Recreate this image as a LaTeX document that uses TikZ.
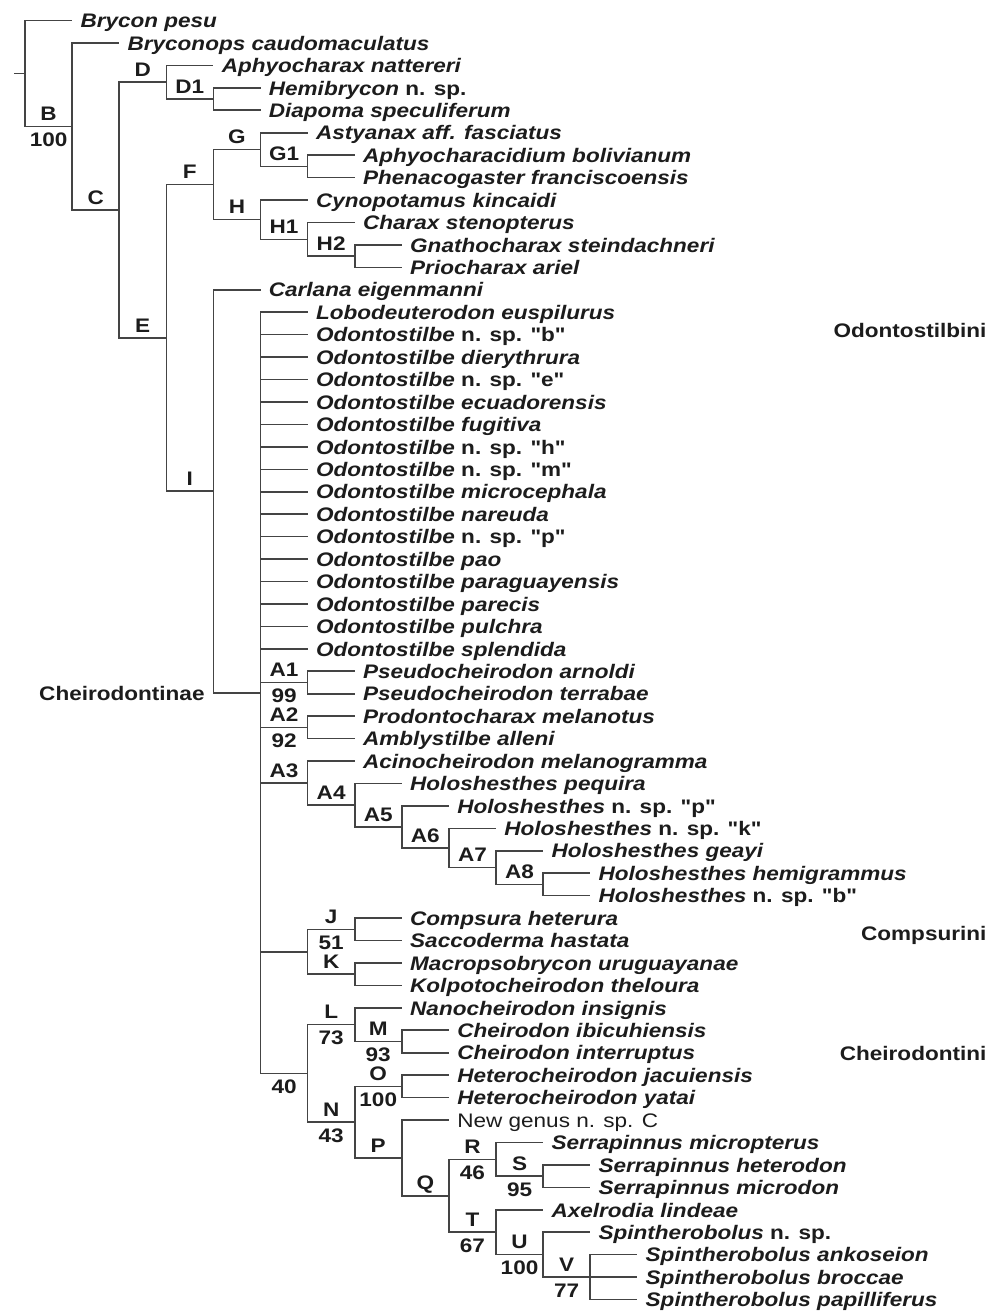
\documentclass[tikz,border=0pt]{standalone}
\usepackage{fontspec}
\setmainfont{Liberation Sans}[FakeStretch=1.15,Ligatures=TeXOff]
\definecolor{branch}{HTML}{444444}
\definecolor{ink}{HTML}{1C1C1C}
\newcommand\novsp{{\upshape n. sp.}}
\newcommand\novspq[1]{{\upshape n. sp. "#1"}}

\begin{document}
\begin{tikzpicture}[x=23.55pt,y=-11.22pt,
 br/.style={branch,line width=.8pt},
 tx/.style={anchor=west,inner xsep=4pt,inner ysep=0pt,text height=.72em,text depth=0pt,text=ink,font=\fontsize{9.8}{11}\selectfont\bfseries\itshape},
 nt/.style={tx,font=\fontsize{9.8}{11}\selectfont},
 lb/.style={inner xsep=0pt,inner ysep=2.5pt,text height=.72em,text depth=0pt,text=ink,font=\fontsize{9.8}{11}\selectfont\bfseries}]
 \useasboundingbox(-.531,-.914)rectangle(20.51,57.51);
 % internal nodes: (level, row)
 \coordinate(stub)at(-.23,2.362);\coordinate(root)at(0,2.362);
 \coordinate(B)at(1,4.724);\coordinate(C)at(2,8.448);
 \coordinate(D)at(3,2.75);\coordinate(D1)at(4,3.5);
 \coordinate(E)at(3,14.146);\coordinate(F)at(4,7.3125);
 \coordinate(G)at(5,5.75);\coordinate(G1)at(6,6.5);
 \coordinate(H)at(5,8.875);\coordinate(H1)at(6,9.75);\coordinate(H2)at(7,10.5);
 \coordinate(I)at(4,20.98);\coordinate(CH)at(5,29.961);
 \coordinate(A1)at(6,29.5);\coordinate(A2)at(6,31.5);\coordinate(A3)at(6,33.984);
 \coordinate(A4)at(7,34.969);\coordinate(A5)at(8,35.938);\coordinate(A6)at(9,36.875);
 \coordinate(A7)at(10,37.75);\coordinate(A8)at(11,38.5);
 \coordinate(JK)at(6,41.5);\coordinate(J)at(7,40.5);\coordinate(K)at(7,42.5);
 \coordinate(N40)at(6,46.922);\coordinate(L)at(7,44.75);\coordinate(M)at(8,45.5);
 \coordinate(N)at(7,49.094);\coordinate(O)at(8,47.5);\coordinate(P)at(8,50.688);
 \coordinate(Q)at(9,52.375);\coordinate(R)at(10,50.75);\coordinate(S)at(11,51.5);
 \coordinate(T)at(10,54);\coordinate(U)at(11,55);\coordinate(V)at(12,56);
 % taxa
 \node[tx](pesu)at(1,0){Brycon pesu};
 \node[tx](caud)at(2,1){Bryconops caudomaculatus};
 \node[tx](natt)at(4,2){Aphyocharax nattereri};
 \node[tx](hemi)at(5,3){Hemibrycon \novsp};
 \node[tx](diap)at(5,4){Diapoma speculiferum};
 \node[tx](asty)at(6,5){Astyanax aff. fasciatus};
 \node[tx](apch)at(7,6){Aphyocharacidium bolivianum};
 \node[tx](phen)at(7,7){Phenacogaster franciscoensis};
 \node[tx](cyno)at(6,8){Cynopotamus kincaidi};
 \node[tx](chst)at(7,9){Charax stenopterus};
 \node[tx](gnat)at(8,10){Gnathocharax steindachneri};
 \node[tx](prio)at(8,11){Priocharax ariel};
 \node[tx](carl)at(5,12){Carlana eigenmanni};
 \node[tx](lobo)at(6,13){Lobodeuterodon euspilurus};
 \node[tx](osb)at(6,14){Odontostilbe \novspq{b}};
 \node[tx](odie)at(6,15){Odontostilbe dierythrura};
 \node[tx](ose)at(6,16){Odontostilbe \novspq{e}};
 \node[tx](oecu)at(6,17){Odontostilbe ecuadorensis};
 \node[tx](ofug)at(6,18){Odontostilbe fugitiva};
 \node[tx](osh)at(6,19){Odontostilbe \novspq{h}};
 \node[tx](osm)at(6,20){Odontostilbe \novspq{m}};
 \node[tx](omic)at(6,21){Odontostilbe microcephala};
 \node[tx](onar)at(6,22){Odontostilbe nareuda};
 \node[tx](osp)at(6,23){Odontostilbe \novspq{p}};
 \node[tx](opao)at(6,24){Odontostilbe pao};
 \node[tx](opag)at(6,25){Odontostilbe paraguayensis};
 \node[tx](opar)at(6,26){Odontostilbe parecis};
 \node[tx](opul)at(6,27){Odontostilbe pulchra};
 \node[tx](ospl)at(6,28){Odontostilbe splendida};
 \node[tx](arno)at(7,29){Pseudocheirodon arnoldi};
 \node[tx](terr)at(7,30){Pseudocheirodon terrabae};
 \node[tx](melt)at(7,31){Prodontocharax melanotus};
 \node[tx](alle)at(7,32){Amblystilbe alleni};
 \node[tx](acin)at(7,33){Acinocheirodon melanogramma};
 \node[tx](pequ)at(8,34){Holoshesthes pequira};
 \node[tx](hsp)at(9,35){Holoshesthes \novspq{p}};
 \node[tx](hsk)at(10,36){Holoshesthes \novspq{k}};
 \node[tx](geay)at(11,37){Holoshesthes geayi};
 \node[tx](hemg)at(12,38){Holoshesthes hemigrammus};
 \node[tx](hsb)at(12,39){Holoshesthes \novspq{b}};
 \node[tx](comp)at(8,40){Compsura heterura};
 \node[tx](sacc)at(8,41){Saccoderma hastata};
 \node[tx](macr)at(8,42){Macropsobrycon uruguayanae};
 \node[tx](kolp)at(8,43){Kolpotocheirodon theloura};
 \node[tx](nano)at(8,44){Nanocheirodon insignis};
 \node[tx](ibic)at(9,45){Cheirodon ibicuhiensis};
 \node[tx](intr)at(9,46){Cheirodon interruptus};
 \node[tx](jacu)at(9,47){Heterocheirodon jacuiensis};
 \node[tx](yata)at(9,48){Heterocheirodon yatai};
 \node[nt](newg)at(9,49){New genus n. sp. C};
 \node[tx](micp)at(11,50){Serrapinnus micropterus};
 \node[tx](hete)at(12,51){Serrapinnus heterodon};
 \node[tx](micd)at(12,52){Serrapinnus microdon};
 \node[tx](axel)at(11,53){Axelrodia lindeae};
 \node[tx](spsp)at(12,54){Spintherobolus \novsp};
 \node[tx](anko)at(13,55){Spintherobolus ankoseion};
 \node[tx](brcc)at(13,56){Spintherobolus broccae};
 \node[tx](papi)at(13,57){Spintherobolus papilliferus};
 % outgroups
 \draw[br](stub)--(root);
 \draw[br](root)|-(pesu.west);
 \draw[br](root)|-(B)node[lb,pos=.75,above](lB){B}node[lb,pos=.75,below](sB){100};
 \draw[br](B)|-(caud.west);
 \draw[br](B)|-(C)node[lb,pos=.75,above](lC){C};
 \draw[br](C)|-(D)node[lb,pos=.75,above](lD){D};
 \draw[br](C)|-(E)node[lb,pos=.75,above](lE){E};
 \draw[br](D)|-(natt.west);
 \draw[br](D)|-(D1)node[lb,pos=.75,above](lD1){D1};
 \draw[br](D1)|-(hemi.west)(D1)|-(diap.west);
 \draw[br](E)|-(F)node[lb,pos=.75,above](lF){F};
 \draw[br](E)|-(I)node[lb,pos=.75,above](lI){I};
 \draw[br](F)|-(G)node[lb,pos=.75,above](lG){G};
 \draw[br](F)|-(H)node[lb,pos=.75,above](lH){H};
 \draw[br](G)|-(asty.west);
 \draw[br](G)|-(G1)node[lb,pos=.75,above](lG1){G1};
 \draw[br](G1)|-(apch.west)(G1)|-(phen.west);
 \draw[br](H)|-(cyno.west);
 \draw[br](H)|-(H1)node[lb,pos=.75,above](lH1){H1};
 \draw[br](H1)|-(chst.west);
 \draw[br](H1)|-(H2)node[lb,pos=.75,above](lH2){H2};
 \draw[br](H2)|-(gnat.west)(H2)|-(prio.west);
 % Cheirodontinae
 \draw[br](I)|-(carl.west);
 \draw[br](I)|-(CH);
 \node[lb,anchor=east,inner sep=0pt](lCH)at(3.82,29.961){Cheirodontinae};
 \draw[br](CH)|-(lobo.west)(CH)|-(osb.west)(CH)|-(odie.west)(CH)|-(ose.west)
  (CH)|-(oecu.west)(CH)|-(ofug.west)(CH)|-(osh.west)(CH)|-(osm.west)
  (CH)|-(omic.west)(CH)|-(onar.west)(CH)|-(osp.west)(CH)|-(opao.west)
  (CH)|-(opag.west)(CH)|-(opar.west)(CH)|-(opul.west)(CH)|-(ospl.west);
 \draw[br](CH)|-(A1)node[lb,pos=.75,above](lA1){A1}node[lb,pos=.75,below](sA1){99};
 \draw[br](CH)|-(A2)node[lb,pos=.75,above](lA2){A2}node[lb,pos=.75,below](sA2){92};
 \draw[br](CH)|-(A3)node[lb,pos=.75,above](lA3){A3};
 \draw[br](CH)|-(JK);
 \draw[br](CH)|-(N40)node[lb,pos=.75,below](s40){40};
 \draw[br](A1)|-(arno.west)(A1)|-(terr.west);
 \draw[br](A2)|-(melt.west)(A2)|-(alle.west);
 \draw[br](A3)|-(acin.west);
 \draw[br](A3)|-(A4)node[lb,pos=.75,above](lA4){A4};
 \draw[br](A4)|-(pequ.west);
 \draw[br](A4)|-(A5)node[lb,pos=.75,above](lA5){A5};
 \draw[br](A5)|-(hsp.west);
 \draw[br](A5)|-(A6)node[lb,pos=.75,above](lA6){A6};
 \draw[br](A6)|-(hsk.west);
 \draw[br](A6)|-(A7)node[lb,pos=.75,above](lA7){A7};
 \draw[br](A7)|-(geay.west);
 \draw[br](A7)|-(A8)node[lb,pos=.75,above](lA8){A8};
 \draw[br](A8)|-(hemg.west)(A8)|-(hsb.west);
 % Compsurini
 \draw[br](JK)|-(J)node[lb,pos=.75,above](lJ){J}node[lb,pos=.75,below](sJ){51};
 \draw[br](JK)|-(K)node[lb,pos=.75,above](lK){K};
 \draw[br](J)|-(comp.west)(J)|-(sacc.west);
 \draw[br](K)|-(macr.west)(K)|-(kolp.west);
 % Cheirodontini
 \draw[br](N40)|-(L)node[lb,pos=.75,above](lL){L}node[lb,pos=.75,below](sL){73};
 \draw[br](N40)|-(N)node[lb,pos=.75,above](lN){N}node[lb,pos=.75,below](sN){43};
 \draw[br](L)|-(nano.west);
 \draw[br](L)|-(M)node[lb,pos=.75,above](lM){M}node[lb,pos=.75,below](sM){93};
 \draw[br](M)|-(ibic.west)(M)|-(intr.west);
 \draw[br](N)|-(O)node[lb,pos=.75,above](lO){O}node[lb,pos=.75,below](sO){100};
 \draw[br](N)|-(P)node[lb,pos=.75,above](lP){P};
 \draw[br](O)|-(jacu.west)(O)|-(yata.west);
 \draw[br](P)|-(newg.west);
 \draw[br](P)|-(Q)node[lb,pos=.75,above](lQ){Q};
 \draw[br](Q)|-(R)node[lb,pos=.75,above](lR){R}node[lb,pos=.75,below](sR){46};
 \draw[br](Q)|-(T)node[lb,pos=.75,above](lT){T}node[lb,pos=.75,below](sT){67};
 \draw[br](R)|-(micp.west);
 \draw[br](R)|-(S)node[lb,pos=.75,above](lS){S}node[lb,pos=.75,below](sS){95};
 \draw[br](S)|-(hete.west)(S)|-(micd.west);
 \draw[br](T)|-(axel.west);
 \draw[br](T)|-(U)node[lb,pos=.75,above](lU){U}node[lb,pos=.75,below](sU){100};
 \draw[br](U)|-(spsp.west);
 \draw[br](U)|-(V)node[lb,pos=.75,above](lV){V}node[lb,pos=.75,below](sV){77};
 \draw[br](V)|-(anko.west)(V)|-(brcc.west)(V)|-(papi.west);
 % tribes
 \node[lb,anchor=east,inner sep=0pt](odon)at(20.42,13.79){Odontostilbini};
 \node[lb,anchor=east,inner sep=0pt](cmps)at(20.42,40.66){Compsurini};
 \node[lb,anchor=east,inner sep=0pt](chdt)at(20.42,46.01){Cheirodontini};
\end{tikzpicture}
\end{document}
